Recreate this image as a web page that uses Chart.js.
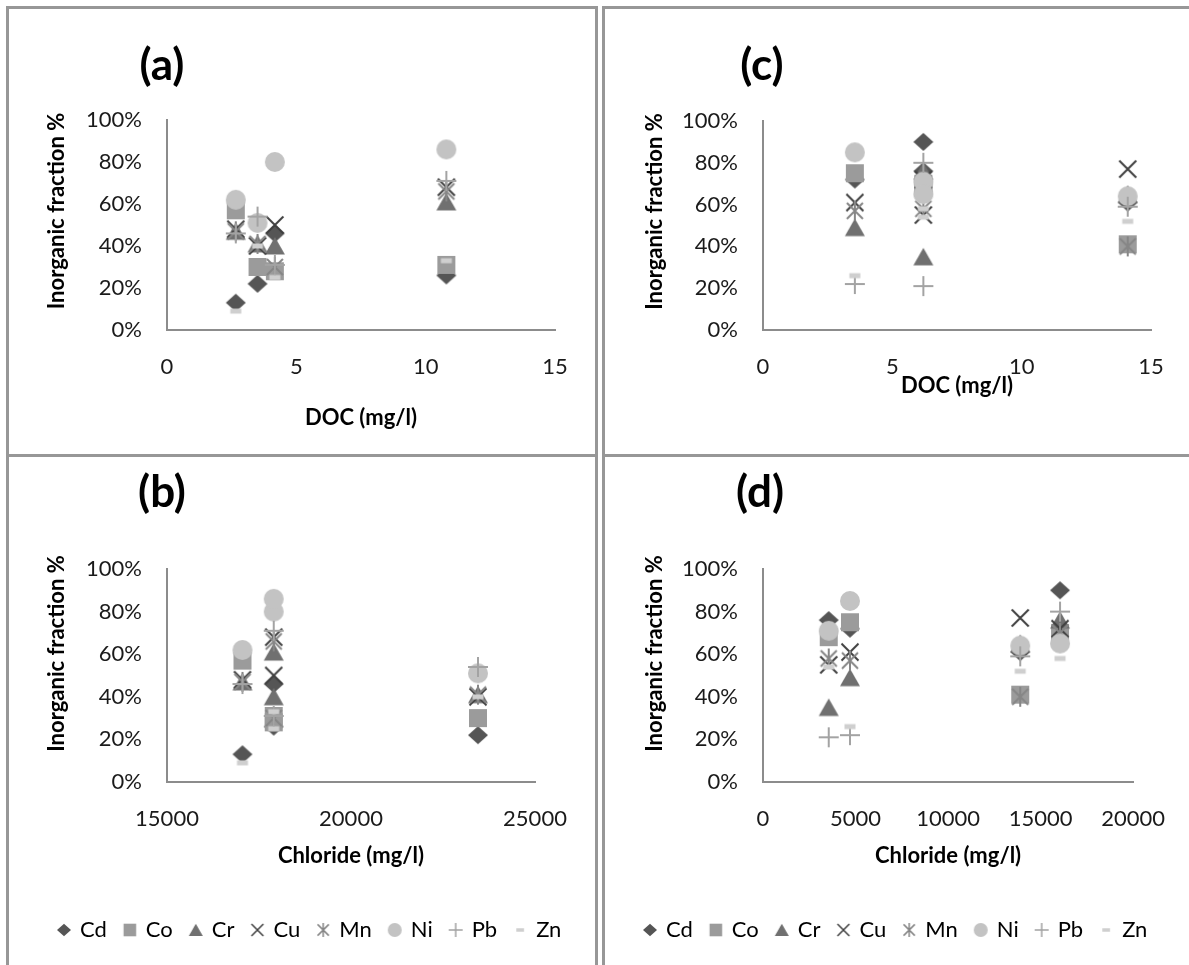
<!DOCTYPE html>
<html>
<head>
<meta charset="utf-8">
<title>Inorganic fraction vs DOC and chloride</title>
<script src="https://cdn.jsdelivr.net/npm/chart.js@4.4.1/dist/chart.umd.min.js"></script>
<style>
  html, body { margin: 0; padding: 0; background: #fff; }
  body { position: relative; width: 1189px; height: 965px; overflow: hidden; font-family: Lato, "Noto Sans", sans-serif; }
  canvas { position: absolute; }
  .line { position: absolute; background: #979797; }
  .tag { position: absolute; font-weight: bold; font-size: 44px; line-height: 1; color: #000; transform: translate(-50%, -50%); }
</style>
</head>
<body>
<canvas id="chartA" style="left:0;top:0" width="597" height="455"></canvas>
<canvas id="chartB" style="left:0;top:455px" width="597" height="510"></canvas>
<canvas id="chartC" style="left:600px;top:0" width="589" height="455"></canvas>
<canvas id="chartD" style="left:600px;top:455px" width="589" height="510"></canvas>

<!-- panel frames -->
<div class="line" style="left:6px;top:6px;width:592px;height:3px"></div>
<div class="line" style="left:6px;top:6px;width:3px;height:959px"></div>
<div class="line" style="left:595px;top:6px;width:3px;height:959px"></div>
<div class="line" style="left:6px;top:454px;width:592px;height:3px"></div>
<div class="line" style="left:602px;top:6px;width:587px;height:3px"></div>
<div class="line" style="left:602px;top:6px;width:3px;height:959px"></div>
<div class="line" style="left:602px;top:454px;width:587px;height:3px"></div>

<div class="tag" style="left:162px;top:63px">(a)</div>
<div class="tag" style="left:162px;top:490px">(b)</div>
<div class="tag" style="left:762px;top:63px">(c)</div>
<div class="tag" style="left:760px;top:490px">(d)</div>

<script>
const metals = ['Cd', 'Co', 'Cr', 'Cu', 'Mn', 'Ni', 'Pb', 'Zn'];
const yTickValues = [0, 20, 40, 60, 80, 100];
const docTicks = [0, 5, 10, 15];
const chlorideTicksB = [15000, 20000, 25000];
const chlorideTicksD = [0, 5000, 10000, 15000, 20000];

// samples plotted in (a) and (b)
const docAB = [2.66, 3.5, 4.17, 10.8];
const chlorideAB = [17050, 23450, 17900, 17900];
const cdAB = [13, 22, 46, 26];
const coAB = [57, 30, 28, 31];
const crAB = [47, 41, 40, 61];
const cuAB = [48, 40, 50, 68];
const mnAB = [47, 41, 30, 66];
const niAB = [62, 51, 80, 86];
const pbAB = [46, 54, 31, 71];
const znAB = [9, 40, 25, 33];

// samples plotted in (c) and (d)
const docCD = [3.55, 6.2, 6.2, 14.1];
const chlorideCD = [4700, 3550, 16050, 13900];
const cdCD = [72, 76, 90, 61];
const coCD = [75, 68, 70, 41];
const crCD = [49, 35, 76, 65];
const cuCD = [61, 55, 72, 77];
const mnCD = [57, 58, 70, 40];
const niCD = [85, 71, 65, 64];
const pbCD = [22, 21, 80, 59];
const znCD = [26, 54, 58, 52];

const valuesAB = [cdAB, coAB, crAB, cuAB, mnAB, niAB, pbAB, znAB];
const valuesCD = [cdCD, coCD, crCD, cuCD, mnCD, niCD, pbCD, znCD];

const markerShapes = ['diamond', 'square', 'triangle', 'x', 'asterisk', 'circle', 'plus', 'dash'];
const markerColors = ['#555555', '#9b9b9b', '#707070', '#3f3f3f', '#868686', '#c3c3c3', '#a3a3a3', '#cfcfcf'];

// Excel-like markers drawn on small canvases
function makeMarker(shape, color, size) {
  const pad = 2;
  const c = document.createElement('canvas');
  c.width = c.height = size + pad * 2;
  const ctx = c.getContext('2d');
  const h = size / 2;
  ctx.translate(pad + h, pad + h);
  ctx.fillStyle = color;
  ctx.strokeStyle = color;
  ctx.lineWidth = size > 16 ? 2 : 1.5;
  ctx.beginPath();
  switch (shape) {
    case 'diamond':
      ctx.moveTo(0, -h * 0.9); ctx.lineTo(h, 0); ctx.lineTo(0, h * 0.9); ctx.lineTo(-h, 0);
      ctx.closePath(); ctx.fill();
      break;
    case 'square':
      ctx.rect(-h * 0.9, -h * 0.9, h * 1.8, h * 1.8); ctx.fill();
      break;
    case 'triangle':
      ctx.moveTo(0, -h * 0.9); ctx.lineTo(h, h * 0.85); ctx.lineTo(-h, h * 0.85);
      ctx.closePath(); ctx.fill();
      break;
    case 'x':
      ctx.moveTo(-h * 0.85, -h * 0.85); ctx.lineTo(h * 0.85, h * 0.85);
      ctx.moveTo(h * 0.85, -h * 0.85); ctx.lineTo(-h * 0.85, h * 0.85);
      ctx.stroke();
      break;
    case 'asterisk':
      ctx.moveTo(-h * 0.8, -h * 0.8); ctx.lineTo(h * 0.8, h * 0.8);
      ctx.moveTo(h * 0.8, -h * 0.8); ctx.lineTo(-h * 0.8, h * 0.8);
      ctx.moveTo(0, -h); ctx.lineTo(0, h);
      ctx.stroke();
      break;
    case 'circle':
      ctx.arc(0, 0, h, 0, Math.PI * 2); ctx.fill();
      break;
    case 'plus':
      ctx.moveTo(-h, 0); ctx.lineTo(h, 0);
      ctx.moveTo(0, -h); ctx.lineTo(0, h);
      ctx.stroke();
      break;
    case 'dash':
      ctx.fillRect(-h * 0.55, -h * 0.25, h * 1.1, h * 0.5);
      break;
  }
  return c;
}

const pointMarkers = markerShapes.map((s, i) => makeMarker(s, markerColors[i], 20));
const legendMarkers = markerShapes.map((s, i) => makeMarker(s, markerColors[i], 14));

function buildDatasets(xs, values) {
  return metals.map((name, i) => ({
    label: name,
    data: xs.map((x, j) => ({ x: x, y: values[i][j] })),
    pointStyle: pointMarkers[i],
    pointRadius: 10,
    pointHoverRadius: 10,
    order: metals.length - 1 - i,   // later series on top, like Excel
    showLine: false
  }));
}

const tickFont = { family: 'Lato', size: 22 };
const titleFont = { family: 'Lato', size: 22, weight: 'bold' };

// vertical axis title, sitting a little above the plot centre as in the original
const yTitlePlugin = {
  id: 'yTitle',
  afterDraw(chart, args, opts) {
    const ctx = chart.ctx;
    const area = chart.chartArea;
    ctx.save();
    ctx.font = 'bold 22px Lato';
    ctx.fillStyle = '#000';
    ctx.textAlign = 'center';
    ctx.textBaseline = 'middle';
    ctx.translate(opts.x, (area.top + area.bottom) / 2 + opts.shift);
    ctx.rotate(-Math.PI / 2);
    ctx.fillText(opts.text, 0, 0);
    ctx.restore();
  }
};

// p: canvas size + where the plot area must sit inside it
function makeChart(id, p) {
  const legendH = p.legend ? 22 + 18 + 10 : 0;
  const padLeft = p.padLeft || 0;
  const padRight = 5;
  const xAxisH = p.xAxisBottom - p.bottom;
  return new Chart(document.getElementById(id), {
    type: 'scatter',
    data: { datasets: buildDatasets(p.xs, p.values) },
    plugins: [yTitlePlugin],
    options: {
      responsive: false,
      animation: false,
      devicePixelRatio: 1,
      layout: {
        padding: {
          left: padLeft,
          top: p.top,
          right: padRight,
          bottom: p.height - p.xAxisBottom - legendH
        }
      },
      plugins: {
        tooltip: { enabled: false },
        yTitle: { text: 'Inorganic fraction %', x: p.yTitleX, shift: p.yTitleShift },
        legend: {
          display: !!p.legend,
          position: 'bottom',
          align: 'start',
          labels: {
            usePointStyle: true,
            boxWidth: 10,
            padding: 18,
            color: '#000',
            font: { family: 'Lato', size: 22 },
            generateLabels: () => metals.map((name, i) => ({
              text: name,
              pointStyle: legendMarkers[i],
              fillStyle: markerColors[i],
              strokeStyle: markerColors[i],
              lineWidth: 0,
              hidden: false,
              datasetIndex: i
            }))
          }
        }
      },
      scales: {
        x: {
          type: 'linear',
          min: p.xTicks[0],
          max: p.xTicks[p.xTicks.length - 1],
          afterBuildTicks: s => { s.ticks = p.xTicks.map(v => ({ value: v })); },
          afterFit: s => { s.height = xAxisH; },
          grid: { display: false, drawTicks: false },
          border: { display: true, color: '#8c8c8c', width: 2 },
          ticks: { font: tickFont, color: '#1a1a1a', padding: 24, maxRotation: 0, callback: v => String(v) },
          title: { display: true, text: p.xTitle, font: titleFont, color: '#000', padding: { top: 0, bottom: p.xTitlePad } }
        },
        y: {
          type: 'linear',
          min: 0,
          max: 100,
          afterBuildTicks: s => { s.ticks = yTickValues.map(v => ({ value: v })); },
          afterFit: s => { s.width = p.left - padLeft; },
          grid: { display: false, drawTicks: false },
          border: { display: true, color: '#8c8c8c', width: 2 },
          ticks: { font: tickFont, color: '#1a1a1a', padding: 25, callback: v => v + '%' }
        },
        // empty right-hand box: keeps the plot narrow while the legend can use the full width
        spacer: {
          type: 'linear',
          position: 'right',
          grid: { display: false, drawTicks: false },
          border: { display: false },
          ticks: { display: false },
          afterFit: s => { s.width = p.width - p.right - padRight; }
        }
      }
    }
  });
}

makeChart('chartA', {
  width: 597, height: 455, left: 167, right: 555, top: 120, bottom: 330,
  xAxisBottom: 431, xTitlePad: 0, yTitleX: 57, yTitleShift: -14,
  xs: docAB, values: valuesAB, xTicks: docTicks, xTitle: 'DOC (mg/l)'
});

makeChart('chartB', {
  width: 597, height: 510, left: 167, right: 535, top: 114, bottom: 327,
  xAxisBottom: 446, xTitlePad: 32, yTitleX: 57, yTitleShift: -22, padLeft: 41, legend: true,
  xs: chlorideAB, values: valuesAB, xTicks: chlorideTicksB, xTitle: 'Chloride (mg/l)'
});

makeChart('chartC', {
  width: 589, height: 455, left: 163, right: 551, top: 121, bottom: 330,
  xAxisBottom: 400, xTitlePad: 1, yTitleX: 55, yTitleShift: -14,
  xs: docCD, values: valuesCD, xTicks: docTicks, xTitle: 'DOC (mg/l)'
});

makeChart('chartD', {
  width: 589, height: 510, left: 163, right: 551, top: 114, bottom: 327,
  xAxisBottom: 446, xTitlePad: 32, yTitleX: 55, yTitleShift: -22, padLeft: 27, legend: true,
  xs: chlorideCD, values: valuesCD, xTicks: chlorideTicksD, xTitle: 'Chloride (mg/l)'
});
</script>
</body>
</html>
